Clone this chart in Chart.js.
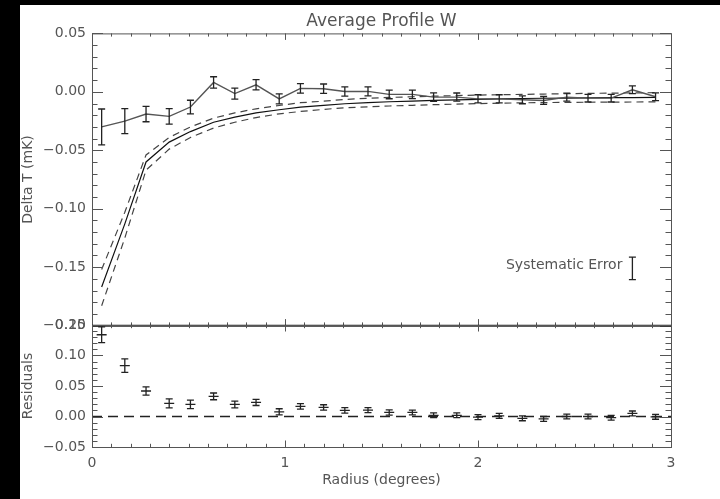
<!DOCTYPE html>
<html>
<head>
<meta charset="utf-8">
<script src="https://cdn.jsdelivr.net/npm/chart.js@4/dist/chart.umd.min.js"></script>
<style>
  html, body { margin: 0; padding: 0; background: #000; }
  #sheet { position: absolute; left: 20px; top: 5px; width: 700px; height: 494px; background: #fff; overflow: hidden; }
  #topChart { position: absolute; left: 0; top: 0; }
  #botChart { position: absolute; left: 0; top: 305px; }
</style>
</head>
<body>
<div id="sheet">
  <canvas id="topChart" width="700" height="335"></canvas>
  <canvas id="botChart" width="700" height="189"></canvas>
</div>
<script>
// Data
const RADIUS = [0.05, 0.17, 0.28, 0.40, 0.51, 0.63, 0.74, 0.85, 0.97, 1.08, 1.20, 1.31, 1.43,
                1.54, 1.66, 1.77, 1.89, 2.00, 2.11, 2.23, 2.34, 2.46, 2.57, 2.69, 2.80, 2.92];

const PROFILE = [-0.030, -0.025, -0.019, -0.021, -0.013, 0.008, -0.0015, 0.006, -0.006, 0.003, 0.0027, 0.0003, 0.0004,
                 -0.0022, -0.0022, -0.0045, -0.0045, -0.006, -0.006, -0.0068, -0.0074, -0.0045, -0.0054, -0.0054, 0.0018, -0.0042];
const PROFILE_ERR = [0.0153, 0.0107, 0.0066, 0.0066, 0.0058, 0.0049, 0.0047, 0.0044, 0.0043, 0.0041, 0.004, 0.004, 0.0038,
                     0.0037, 0.0036, 0.0036, 0.0035, 0.0035, 0.0035, 0.0034, 0.0034, 0.0034, 0.0033, 0.0033, 0.0033, 0.0033];

const MODEL = [-0.167, -0.113, -0.060, -0.043, -0.034, -0.026, -0.0217, -0.018, -0.0153, -0.013, -0.0116, -0.0102, -0.0092,
               -0.0085, -0.0079, -0.0073, -0.0068, -0.0064, -0.006, -0.0057, -0.0055, -0.0053, -0.0051, -0.005, -0.0049, -0.0048];
const MODEL_HI = [-0.152, -0.103, -0.054, -0.039, -0.030, -0.0225, -0.018, -0.0145, -0.0117, -0.0093, -0.008, -0.0065, -0.0055,
                  -0.0048, -0.0042, -0.0037, -0.0032, -0.0028, -0.0025, -0.0022, -0.0019, -0.0016, -0.0013, -0.0011, -0.0009, -0.0007];
const MODEL_LO = [-0.183, -0.125, -0.067, -0.049, -0.039, -0.031, -0.026, -0.022, -0.0188, -0.0168, -0.015, -0.0136, -0.0128,
                  -0.0121, -0.0115, -0.011, -0.0105, -0.0101, -0.0097, -0.0094, -0.0092, -0.009, -0.0089, -0.0088, -0.0087, -0.0086];

const RESIDUAL = [0.134, 0.0835, 0.0418, 0.0214, 0.0198, 0.033, 0.0198, 0.023, 0.0077, 0.0165, 0.0148, 0.0099, 0.0104,
                  0.0066, 0.0066, 0.002, 0.002, -0.001, 0.001, -0.003, -0.004, 0.000, 0.000, -0.002, 0.005, -0.0005];
const RESIDUAL_ERR = [0.0128, 0.011, 0.0068, 0.0074, 0.007, 0.0055, 0.0055, 0.005, 0.005, 0.0045, 0.0045, 0.0045, 0.0042,
                      0.0042, 0.004, 0.004, 0.004, 0.004, 0.004, 0.004, 0.004, 0.004, 0.004, 0.004, 0.004, 0.004];

const ZERO_LINE_X = [0, 3];
const ZERO_LINE_Y = [0, 0];

const SYS_X = 2.80, SYS_Y = -0.151, SYS_ERR = 0.0096;
const SYS_LABEL = 'Systematic Error';

const X_TICKS = [0, 1, 2, 3];
const X_LABELS = ['0', '1', '2', '3'];
const TOP_Y_TICKS = [-0.20, -0.15, -0.10, -0.05, 0.00, 0.05];
const TOP_Y_LABELS = ['\u22120.20', '\u22120.15', '\u22120.10', '\u22120.05', '0.00', '0.05'];
const BOT_Y_TICKS = [-0.05, 0.00, 0.05, 0.10, 0.15];
const BOT_Y_LABELS = ['\u22120.05', '0.00', '0.05', '0.10', '0.15'];

Chart.defaults.font.family = "'DejaVu Sans', sans-serif";
Chart.defaults.font.size = 14;
Chart.defaults.color = '#555';

const pts = ys => RADIUS.map((x, i) => ({ x: x, y: ys[i] }));

// error bars (with optional centre dash) drawn through the chart scales
function errorBarPlugin(values, errors, centreMark) {
    return {
        id: 'errbars',
        afterDatasetsDraw(chart) {
            const c = chart.ctx, xs = chart.scales.x, ys = chart.scales.y;
            c.save();
            c.strokeStyle = '#222';
            c.lineWidth = 1.3;
            RADIUS.forEach((r, i) => {
                const px = xs.getPixelForValue(r);
                const t = ys.getPixelForValue(values[i] + errors[i]);
                const b = ys.getPixelForValue(values[i] - errors[i]);
                c.beginPath();
                c.moveTo(px, t); c.lineTo(px, b);
                c.moveTo(px - 3.5, t); c.lineTo(px + 3.5, t);
                c.moveTo(px - 3.5, b); c.lineTo(px + 3.5, b);
                if (centreMark) {
                    const m = ys.getPixelForValue(values[i]);
                    c.moveTo(px - 5, m); c.lineTo(px + 5, m);
                }
                c.stroke();
            });
            c.restore();
        }
    };
}

// IDL style frame with inward ticks
function framePlugin(yMin, yMax, boldBottom) {
    return {
        id: 'frame',
        afterDraw(chart) {
            const c = chart.ctx, a = chart.chartArea, xs = chart.scales.x, ys = chart.scales.y;
            c.save();
            c.strokeStyle = '#555';
            c.lineWidth = 1;
            c.strokeRect(a.left + 0.5, a.top + 0.5, a.right - a.left, a.bottom - a.top);
            c.beginPath();
            for (let k = Math.round(yMin * 100); k <= Math.round(yMax * 100); k++) {
                const py = Math.round(ys.getPixelForValue(k / 100)) + 0.5;
                const len = k % 5 === 0 ? 11 : 5.5;
                c.moveTo(a.left, py); c.lineTo(a.left + len, py);
                c.moveTo(a.right, py); c.lineTo(a.right - len, py);
            }
            for (let k = 0; k <= 30; k++) {
                const px = Math.round(xs.getPixelForValue(k / 10)) + 0.5;
                const len = k % 10 === 0 ? 6.5 : 3.2;
                c.moveTo(px, a.top); c.lineTo(px, a.top + len);
                c.moveTo(px, a.bottom); c.lineTo(px, a.bottom - len);
            }
            c.stroke();
            if (boldBottom) {
                c.strokeStyle = '#222';
                c.lineWidth = 1.6;
                c.beginPath();
                c.moveTo(a.left, a.bottom); c.lineTo(a.right, a.bottom);
                c.stroke();
            }
            c.restore();
        }
    };
}

const sysPlugin = {
    id: 'sysErr',
    afterDatasetsDraw(chart) {
        const c = chart.ctx, xs = chart.scales.x, ys = chart.scales.y;
        const px = xs.getPixelForValue(SYS_X);
        const t = ys.getPixelForValue(SYS_Y + SYS_ERR);
        const b = ys.getPixelForValue(SYS_Y - SYS_ERR);
        c.save();
        c.strokeStyle = '#222';
        c.lineWidth = 1.3;
        c.beginPath();
        c.moveTo(px, t); c.lineTo(px, b);
        c.moveTo(px - 3.5, t); c.lineTo(px + 3.5, t);
        c.moveTo(px - 3.5, b); c.lineTo(px + 3.5, b);
        c.stroke();
        c.fillStyle = '#555';
        c.font = "14px 'DejaVu Sans', sans-serif";
        c.textAlign = 'right';
        c.textBaseline = 'middle';
        c.fillText(SYS_LABEL, px - 10, (t + b) / 2 - 3);
        c.restore();
    }
};

const yAxisCommon = (ticks, labels, title) => ({
    type: 'linear',
    afterFit: s => { s.width = 72; },
    afterBuildTicks: s => { s.ticks = ticks.map(v => ({ value: v })); },
    ticks: {
        padding: 6,
        color: '#555',
        callback: (v, i) => labels[i]
    },
    grid: { display: false, drawTicks: false },
    border: { display: false },
    title: { display: true, text: title, color: '#555', padding: { top: 0, bottom: 0 } }
});

new Chart(document.getElementById('topChart'), {
    type: 'line',
    data: {
        datasets: [
            { data: pts(PROFILE), borderColor: '#555', borderWidth: 1.4, pointRadius: 0, tension: 0 },
            { data: pts(MODEL), borderColor: '#111', borderWidth: 1.2, pointRadius: 0, tension: 0 },
            { data: pts(MODEL_HI), borderColor: '#444', borderWidth: 1.2, borderDash: [7, 5], pointRadius: 0, tension: 0 },
            { data: pts(MODEL_LO), borderColor: '#444', borderWidth: 1.2, borderDash: [7, 5], pointRadius: 0, tension: 0 }
        ]
    },
    options: {
        responsive: false,
        animation: false,
        layout: { padding: { left: 0, right: 49, top: 0, bottom: 0 } },
        plugins: {
            legend: { display: false },
            tooltip: { enabled: false },
            title: {
                display: true,
                text: 'Average Profile W',
                fullSize: false,
                color: '#555',
                font: { size: 17, weight: 'normal' },
                padding: { top: 6, bottom: 2 }
            }
        },
        scales: {
            x: { type: 'linear', min: 0, max: 3, display: false },
            y: Object.assign(yAxisCommon(TOP_Y_TICKS, TOP_Y_LABELS, 'Delta T (mK)'), { min: -0.2, max: 0.05 })
        }
    },
    plugins: [errorBarPlugin(PROFILE, PROFILE_ERR, false), sysPlugin, framePlugin(-0.2, 0.05, true)]
});

new Chart(document.getElementById('botChart'), {
    type: 'line',
    data: {
        datasets: [
            { data: ZERO_LINE_X.map((x, i) => ({ x: x, y: ZERO_LINE_Y[i] })), borderColor: '#222', borderWidth: 1.3,
              borderDash: [10, 6], pointRadius: 0 },
            { data: pts(RESIDUAL), showLine: false, pointRadius: 0 }
        ]
    },
    options: {
        responsive: false,
        animation: false,
        layout: { padding: { left: 0, right: 49, top: 15, bottom: 0 } },
        plugins: { legend: { display: false }, tooltip: { enabled: false } },
        scales: {
            x: {
                type: 'linear', min: 0, max: 3,
                afterFit: s => { s.height = 52; },
                afterBuildTicks: s => { s.ticks = X_TICKS.map(v => ({ value: v })); },
                ticks: { padding: 8, color: '#555', maxRotation: 0, callback: (v, i) => X_LABELS[i] },
                grid: { display: false, drawTicks: false },
                border: { display: false },
                title: { display: true, text: 'Radius (degrees)', color: '#555', padding: { top: 0, bottom: 10 } }
            },
            y: Object.assign(yAxisCommon(BOT_Y_TICKS, BOT_Y_LABELS, 'Residuals'), { min: -0.05, max: 0.15 })
        }
    },
    plugins: [errorBarPlugin(RESIDUAL, RESIDUAL_ERR, true), framePlugin(-0.05, 0.15, false)]
});
</script>
</body>
</html>
